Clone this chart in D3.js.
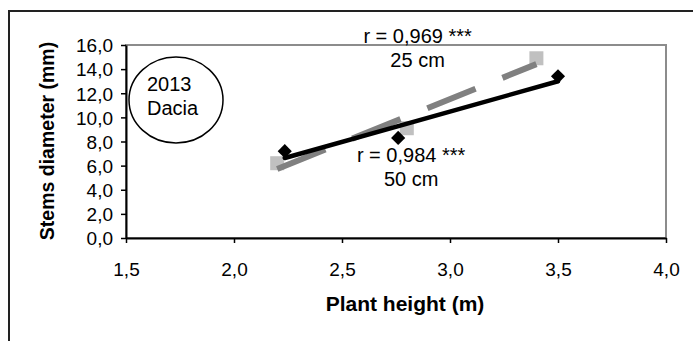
<!DOCTYPE html>
<html>
<head>
<meta charset="utf-8">
<script src="https://cdn.jsdelivr.net/npm/d3@7"></script>
<style>
  body { margin: 0; background: #fff; }
  text { font-family: Arial, "Liberation Sans", sans-serif; }
</style>
</head>
<body>
<svg id="chart" width="693" height="341"></svg>
<script>
// plant height (m) and stem diameter (mm)
var height25 = [2.2, 2.8, 3.4];
var diam25 = [6.2, 9.1, 14.9];
var height50 = [2.235, 2.76, 3.5];
var diam50 = [7.2, 8.3, 13.4];
var xTicks = [1.5, 2.0, 2.5, 3.0, 3.5, 4.0];
var yTicks = [0, 2, 4, 6, 8, 10, 12, 14, 16];
var labels = [
	{ line1: "r = 0,969 ***", line2: "25 cm", x: 2.85, y: 16.2 },
	{ line1: "r = 0,984 ***", line2: "50 cm", x: 2.82, y: 6.3 }
];

var margin = { top: 45, right: 27, bottom: 103, left: 126 };
var width = 693 - margin.left - margin.right;
var height = 341 - margin.top - margin.bottom;

var svg = d3.select("#chart");

// outer chart frame
svg.append("rect")
	.attr("x", 9).attr("y", 11)
	.attr("width", 700).attr("height", 340)
	.attr("fill", "none")
	.attr("stroke", "#222")
	.attr("stroke-width", 2);

var g = svg.append("g").attr("transform", "translate(" + margin.left + "," + margin.top + ")");

var x = d3.scaleLinear().domain([1.5, 4.0]).range([0, width]);
var y = d3.scaleLinear().domain([0, 16]).range([height, 0]);

var fmt = function(d) { return d3.format(".1f")(d).replace(".", ","); };

// plot area border
g.append("rect")
	.attr("width", width).attr("height", height)
	.attr("fill", "none")
	.attr("stroke", "#8c8c8c")
	.attr("stroke-width", 2);

var xAxis = g.append("g")
	.attr("transform", "translate(0," + height + ")")
	.call(d3.axisBottom(x).tickValues(xTicks).tickFormat(fmt).tickSize(5).tickSizeOuter(0));
var yAxis = g.append("g")
	.call(d3.axisLeft(y).tickValues(yTicks).tickFormat(fmt).tickSize(5).tickSizeOuter(0));

[xAxis, yAxis].forEach(function(a) {
	a.select(".domain").attr("stroke", "#000").attr("stroke-width", 2);
	a.selectAll(".tick line").attr("stroke", "#000").attr("stroke-width", 1.5);
	a.selectAll(".tick text").attr("font-size", 19).attr("fill", "#000")
		.attr("font-family", "Arial, 'Liberation Sans', sans-serif");
});
xAxis.selectAll(".tick text").attr("y", 38).attr("dy", 0);
yAxis.selectAll(".tick text").attr("x", -13).attr("dy", "0.36em");

// regression lines
function fit(xs, ys) {
	var mx = d3.mean(xs), my = d3.mean(ys);
	var sxy = d3.sum(xs, function(v, i) { return (v - mx) * (ys[i] - my); });
	var sxx = d3.sum(xs, function(v) { return (v - mx) * (v - mx); });
	var b = sxy / sxx, a = my - b * mx;
	var x0 = d3.min(xs), x1 = d3.max(xs);
	return [[x0, a + b * x0], [x1, a + b * x1]];
}

var line = d3.line().x(function(d) { return x(d[0]); }).y(function(d) { return y(d[1]); });

// 25 cm markers (gray squares)
g.selectAll(".sq").data(d3.zip(height25, diam25)).enter().append("rect")
	.attr("class", "sq")
	.attr("x", function(d) { return x(d[0]) - 7; })
	.attr("y", function(d) { return y(d[1]) - 7; })
	.attr("width", 14).attr("height", 14)
	.attr("fill", "#c0c0c0");

// 50 cm markers (black diamonds)
g.selectAll(".dm").data(d3.zip(height50, diam50)).enter().append("path")
	.attr("class", "dm")
	.attr("d", d3.symbol().type(d3.symbolSquare).size(100))
	.attr("transform", function(d) { return "translate(" + x(d[0]) + "," + y(d[1]) + ") rotate(45)"; })
	.attr("fill", "#000");

g.append("path")
	.attr("d", line(fit(height25, diam25)))
	.attr("stroke", "#808080")
	.attr("stroke-width", 6)
	.attr("stroke-dasharray", "52,29")
	.attr("fill", "none");

g.append("path")
	.attr("d", line(fit(height50, diam50)))
	.attr("stroke", "#000")
	.attr("stroke-width", 4.5)
	.attr("stroke-linecap", "round")
	.attr("fill", "none");

// correlation labels
labels.forEach(function(l) {
	var t = g.append("text")
		.attr("x", x(l.x)).attr("y", y(l.y))
		.attr("text-anchor", "middle")
		.attr("font-size", 20);
	t.append("tspan").attr("x", x(l.x)).text(l.line1);
	t.append("tspan").attr("x", x(l.x)).attr("dy", 24).text(l.line2);
});

// year / site ellipse
svg.append("ellipse")
	.attr("cx", 176).attr("cy", 100)
	.attr("rx", 47).attr("ry", 43)
	.attr("fill", "#fff")
	.attr("stroke", "#000")
	.attr("stroke-width", 1.5);
svg.append("text").attr("font-size", 20)
	.selectAll("tspan").data(["2013", "Dacia"]).enter().append("tspan")
	.attr("x", 147).attr("y", function(d, i) { return 91 + i * 24; })
	.text(function(d) { return d; });

// axis titles
svg.append("text")
	.attr("x", 405).attr("y", 311)
	.attr("text-anchor", "middle")
	.attr("font-size", 21).attr("font-weight", "bold")
	.text("Plant height (m)");
svg.append("text")
	.attr("transform", "translate(54,141) rotate(-90)")
	.attr("text-anchor", "middle")
	.attr("font-size", 19.5).attr("font-weight", "bold")
	.text("Stems diameter (mm)");
</script>
</body>
</html>
